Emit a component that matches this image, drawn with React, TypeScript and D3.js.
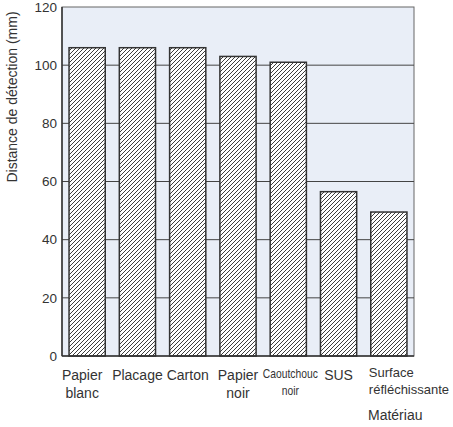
import React from "react";
import * as d3 from "d3";

const categories = ["Papier blanc", "Placage", "Carton", "Papier noir", "Caoutchouc noir", "SUS", "Surface réfléchissante"];
const labelLines = [["Papier", "blanc"], ["Placage"], ["Carton"], ["Papier", "noir"], ["Caoutchouc", "noir"], ["SUS"], ["Surface", "réfléchissante"]];
const values = [106, 106, 106, 103, 101, 56.5, 49.5];
const yTicks = [0, 20, 40, 60, 80, 100, 120];

export default function App() {
  const W = 453, H = 427;
  const left = 62, right = 414, top = 7, bottom = 356;
  const x = d3.scaleBand<string>().domain(categories).range([left, right]).paddingInner(0.28).paddingOuter(0.14);
  const y = d3.scaleLinear().domain([0, 120]).range([bottom, top]);
  const font = "'Liberation Sans', Arial, sans-serif";
  const textColor = "#333";
  const dxs = [-5, 0, 0, 0, 2, 0, 0];
  return (
    <svg width={W} height={H} style={{ position: "absolute", left: 0, top: 0 }} fontFamily={font}>
      <defs>
        <pattern id="hatch" patternUnits="userSpaceOnUse" width={4} height={4}>
          <rect width={4} height={4} fill="#fff" />
          <path d="M-1,1 L1,-1 M0,4 L4,0 M3,5 L5,3" stroke="#333" strokeWidth={0.95} />
        </pattern>
      </defs>
      <rect x={left} y={top} width={right - left} height={bottom - top} fill="#e9eef7" stroke="#666" strokeWidth={1} />
      {yTicks.slice(1, -1).map(t => (
        <line key={t} x1={left} x2={right} y1={y(t)} y2={y(t)} stroke="#444" strokeWidth={1} />
      ))}
      {categories.map((c, i) => (
        <rect key={c} x={x(c)} y={y(values[i])} width={x.bandwidth()} height={bottom - y(values[i])}
          fill="url(#hatch)" stroke="#333" strokeWidth={1.5} />
      ))}
      <line x1={left} x2={left} y1={top} y2={bottom} stroke="#333" strokeWidth={1.5} />
      <line x1={left} x2={right} y1={bottom} y2={bottom} stroke="#333" strokeWidth={1.5} />
      {yTicks.map(t => (
        <text key={t} x={left - 5} y={y(t)} dy="0.35em" textAnchor="end" fontSize={13.5} fill={textColor}>{t}</text>
      ))}
      {categories.map((c, i) => {
        const cx = (x(c) as number) + x.bandwidth() / 2 + dxs[i];
        const lines = labelLines[i];
        const small = i === 4;
        const last = i === 6;
        const tx = last ? cx - 20 : cx;
        const y0 = small ? 378 : last ? 377 : 380;
        const lh = small ? 17 : last ? 16.5 : 17.5;
        return (
          <text key={c} x={tx} textAnchor={last ? "start" : "middle"}
            fontSize={small ? 12 : last ? 13 : 14} fill={textColor}
            transform={small ? `translate(${cx},0) scale(0.86,1) translate(${-cx},0)` : undefined}>
            {lines.map((l, j) => (
              <tspan key={j} x={tx} y={y0 + j * lh}>{l}</tspan>
            ))}
          </text>
        );
      })}
      <text x={368} y={420} fontSize={14} fill={textColor}>Matériau</text>
      <text transform={`translate(17,97) rotate(-90)`} textAnchor="middle" fontSize={14} fill={textColor}>
        Distance de détection (mm)
      </text>
    </svg>
  );
}
